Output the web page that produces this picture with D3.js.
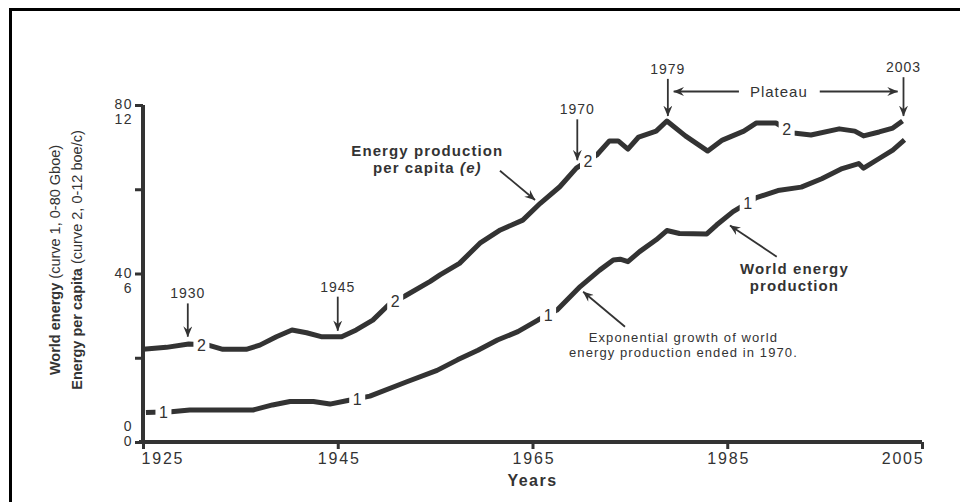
<!DOCTYPE html>
<html>
<head>
<meta charset="utf-8">
<script src="https://cdn.jsdelivr.net/npm/d3@7"></script>
<style>
  html, body { margin: 0; padding: 0; background: #fff; }
  svg { display: block; }
  text { font-family: "Liberation Sans", Arial, Helvetica, sans-serif; fill: #333; }
</style>
</head>
<body>
<div id="chart"></div>
<script>
// ---------------- DATA ----------------
// Curve 1: World energy production (Gboe)
const years1 = [1925.3, 1927.9, 1929.8, 1936.3, 1938.3, 1940.1, 1942.5, 1944.2, 1945.9, 1948.3,
  1952.1, 1955.2, 1957.3, 1959.4, 1961.4, 1963.5, 1965.6, 1967.5, 1969.9, 1971.9,
  1973.3, 1974.0, 1974.8, 1976.0, 1977.7, 1978.8, 1980.1, 1982.9, 1983.9, 1985.6,
  1988.0, 1990.2, 1992.6, 1994.7, 1996.8, 1998.5, 1999.0, 2000.6, 2002.0, 2003.2];
const values1 = [7.0, 7.2, 7.6, 7.6, 8.8, 9.6, 9.6, 9.0, 9.8, 10.9,
  14.3, 17.0, 19.5, 21.8, 24.2, 26.2, 29.0, 31.3, 36.9, 40.8,
  43.2, 43.4, 42.8, 45.2, 48.0, 50.2, 49.5, 49.4, 51.5, 54.7,
  58.0, 59.7, 60.5, 62.5, 64.9, 66.1, 65.0, 67.3, 69.3, 71.7];

// Curve 2: Energy production per capita (boe/c)
const years2 = [1925.0, 1927.4, 1929.7, 1931.7, 1933.2, 1935.6, 1937.0, 1938.7, 1940.3, 1941.8,
  1943.3, 1945.4, 1946.9, 1948.6, 1950.2, 1951.9, 1954.5, 1955.5, 1957.5, 1959.6,
  1961.7, 1964.0, 1965.8, 1967.8, 1969.5, 1971.6, 1972.9, 1973.8, 1974.8, 1975.9,
  1977.7, 1978.8, 1980.7, 1983.0, 1984.5, 1986.7, 1988.0, 1990.0, 1991.8, 1993.6,
  1996.5, 1998.1, 1999.0, 2000.6, 2002.0, 2003.0];
const values2 = [3.30, 3.37, 3.49, 3.45, 3.30, 3.30, 3.45, 3.75, 3.99, 3.89,
  3.75, 3.75, 3.99, 4.34, 4.88, 5.20, 5.72, 5.95, 6.36, 7.08,
  7.55, 7.90, 8.50, 9.09, 9.75, 10.22, 10.72, 10.72, 10.43, 10.86,
  11.07, 11.43, 10.90, 10.36, 10.75, 11.07, 11.36, 11.36, 11.00, 10.93,
  11.15, 11.07, 10.90, 11.04, 11.18, 11.43];

// curve label positions (years)
const labelYears1 = [1927.1, 1947.0, 1966.6, 1987.1];
const labelYears2 = [1931.0, 1950.9, 1970.7, 1991.1];

// axes
const xTicks = [1925, 1945, 1965, 1985, 2005];
const yTicksGboe = [0, 20, 40, 60, 80];
const yLabelsGboe = [0, 40, 80];
const yLabelsBoe = [0, 6, 12];

// annotations (in data space: year, Gboe-scale value)
const yearMarkLabels = ["1930", "1945", "1970", "1979", "2003"];
const yearMarkX = [1929.6, 1945.0, 1969.6, 1978.9, 2003.1];
const yearMarkTop = [32.9, 34.5, 76.6, 86.2, 86.6];
const yearMarkTip = [25.0, 26.4, 66.9, 77.4, 77.4];

const plateauText = "Plateau";
const plateauYear = 1990.3, plateauLevel = 83.2;
const plateauLeft = [1986.2, 1979.5];
const plateauRight = [1994.5, 2002.5];

const noteLines = [
  {lines: ["Energy production", "per capita (e)"], year: 1954.2, levels: [67.9, 63.9], bold: true},
  {lines: ["World energy", "production"], year: 1991.9, levels: [39.9, 35.9], bold: true},
  {lines: ["Exponential growth of world", "energy production ended in 1970."], year: 1980.5, levels: [23.8, 20.1], bold: false}
];
const noteArrows = [
  [[1961.66, 64.4], [1965.26, 57.45]],
  [[1990.08, 44.0], [1985.28, 51.4]],
  [[1974.5, 27.37], [1970.2, 35.68]]
];

// ---------------- CHART ----------------
const W = 960, H = 502;
const ink = "#333";
const svg = d3.select("#chart").append("svg").attr("width", W).attr("height", H);

const x = d3.scaleLinear().domain([1925, 2005]).range([143, 922]);
const y1 = d3.scaleLinear().domain([0, 80]).range([442, 105]);
const y2 = d3.scaleLinear().domain([0, 12]).range([442, 105]);

// frame
svg.append("path").attr("d", "M10.5,502V9.5H960").attr("fill", "none").attr("stroke", "#000").attr("stroke-width", 3);

const defs = svg.append("defs");
defs.append("marker").attr("id", "ah").attr("viewBox", "0 0 12 10")
  .attr("refX", 11.5).attr("refY", 5).attr("markerWidth", 11).attr("markerHeight", 9)
  .attr("markerUnits", "userSpaceOnUse").attr("orient", "auto")
  .append("path").attr("d", "M0,0 L12,5 L0,10 L4,5 Z").attr("fill", ink);

// axes
const gy = svg.append("g").attr("transform", "translate(143,0)")
  .call(d3.axisLeft(y1).tickValues(yTicksGboe).tickSize(8).tickSizeOuter(0).tickFormat(""));
const gx = svg.append("g").attr("transform", "translate(0,442)")
  .call(d3.axisBottom(x).tickValues(xTicks).tickSize(7).tickSizeOuter(0).tickFormat(d3.format("d")));
[gx, gy].forEach(g => {
  g.select(".domain").attr("stroke", ink).attr("stroke-width", 4);
  g.selectAll(".tick line").attr("stroke", ink).attr("stroke-width", 3);
});
gx.select(".domain").attr("d", "M139,0H922");
gy.select(".domain").attr("d", "M0,105V444");
gx.selectAll(".tick text")
  .attr("y", 11).attr("dy", "0.71em")
  .style("font-size", "16px").style("letter-spacing", "1.8px")
  .attr("fill", ink)
  .attr("text-anchor", (d, i) => i === 0 ? "start" : (i === xTicks.length - 1 ? "end" : "middle"))
  .attr("dx", (d, i) => i === 0 ? -2 : (i === xTicks.length - 1 ? 2 : 1));

// y tick labels (Gboe on top, boe/c below; at zero the order flips)
svg.selectAll(".ylabG").data(yLabelsGboe).join("text")
  .attr("x", 133).attr("y", d => y1(d) + 4)
  .attr("text-anchor", "end").style("font-size", "14px").style("letter-spacing", "1.5px")
  .text(d => d);
svg.selectAll(".ylabB").data(yLabelsBoe).join("text")
  .attr("x", 133).attr("y", d => y2(d) + (d === 0 ? -11 : 19))
  .attr("text-anchor", "end").style("font-size", "14px").style("letter-spacing", "1.5px")
  .text(d => d);

// axis titles
const yt = svg.append("g").attr("transform", "translate(60,260) rotate(-90)");
const t1 = yt.append("text").attr("text-anchor", "middle").style("font-size", "14.5px");
t1.append("tspan").style("font-weight", "bold").text("World energy");
t1.append("tspan").text(" (curve 1, 0-80 Gboe)");
const t2 = yt.append("text").attr("y", 21.5).attr("text-anchor", "middle").style("font-size", "14.5px");
t2.append("tspan").style("font-weight", "bold").text("Energy per capita");
t2.append("tspan").text(" (curve 2, 0-12 boe/c)");

svg.append("text").attr("x", x(1965)).attr("y", 486).attr("text-anchor", "middle")
  .style("font-size", "16px").style("font-weight", "bold").style("letter-spacing", "1.5px").text("Years");

// curves
const s1 = years1.map((yr, i) => ({year: yr, value: values1[i]}));
const s2 = years2.map((yr, i) => ({year: yr, value: values2[i]}));
const line1 = d3.line().x(d => x(d.year)).y(d => y1(d.value));
const line2 = d3.line().x(d => x(d.year)).y(d => y2(d.value));

function interp(yrs, vals, yr) {
  const i = Math.max(1, d3.bisectLeft(yrs, yr));
  const t = (yr - yrs[i - 1]) / (yrs[i] - yrs[i - 1]);
  return vals[i - 1] + t * (vals[i] - vals[i - 1]);
}

svg.append("path").datum(s1).attr("d", line1).attr("fill", "none").attr("stroke", ink)
  .attr("stroke-width", 5).attr("stroke-linejoin", "round");
svg.append("path").datum(s2).attr("d", line2).attr("fill", "none").attr("stroke", ink)
  .attr("stroke-width", 5).attr("stroke-linejoin", "round");

function curveLabels(yrs, vals, scale, labYears, txt) {
  const g = svg.append("g");
  labYears.forEach(ly => {
    const cx = x(ly), cy = scale(interp(yrs, vals, ly));
    g.append("rect").attr("x", cx - 8).attr("y", cy - 9).attr("width", 16).attr("height", 18).attr("fill", "#fff");
    g.append("text").attr("x", cx).attr("y", cy + 6).attr("text-anchor", "middle")
      .style("font-size", "16px").text(txt);
  });
}
curveLabels(years1, values1, y1, labelYears1, "1");
curveLabels(years2, values2, y2, labelYears2, "2");

// year marker arrows
yearMarkLabels.forEach((lab, i) => {
  const ax = x(yearMarkX[i]);
  svg.append("line").attr("x1", ax).attr("x2", ax)
    .attr("y1", y1(yearMarkTop[i])).attr("y2", y1(yearMarkTip[i]))
    .attr("stroke", ink).attr("stroke-width", 1.8).attr("marker-end", "url(#ah)");
  svg.append("text").attr("x", ax).attr("y", y1(yearMarkTop[i]) - 5).attr("text-anchor", "middle")
    .style("font-size", "14px").style("letter-spacing", "1px").text(lab);
});

// plateau
[plateauLeft, plateauRight].forEach(p => {
  svg.append("line").attr("x1", x(p[0])).attr("x2", x(p[1]))
    .attr("y1", y1(plateauLevel)).attr("y2", y1(plateauLevel))
    .attr("stroke", ink).attr("stroke-width", 1.8).attr("marker-end", "url(#ah)");
});
svg.append("text").attr("x", x(plateauYear)).attr("y", y1(plateauLevel) + 5).attr("text-anchor", "middle")
  .style("font-size", "15px").style("letter-spacing", "1px").text(plateauText);

// notes
noteLines.forEach(n => {
  n.lines.forEach((ln, j) => {
    const t = svg.append("text").attr("x", x(n.year)).attr("y", y1(n.levels[j])).attr("text-anchor", "middle")
      .style("font-size", n.bold ? "15px" : "13px")
      .style("font-weight", n.bold ? "bold" : "normal")
      .style("letter-spacing", "1.1px");
    if (ln === "per capita (e)") {
      t.append("tspan").text("per capita ");
      t.append("tspan").style("font-style", "italic").text("(e)");
    } else {
      t.text(ln);
    }
  });
});
noteArrows.forEach(a => {
  svg.append("line").attr("x1", x(a[0][0])).attr("y1", y1(a[0][1]))
    .attr("x2", x(a[1][0])).attr("y2", y1(a[1][1]))
    .attr("stroke", ink).attr("stroke-width", 1.8).attr("marker-end", "url(#ah)");
});
</script>
</body>
</html>
